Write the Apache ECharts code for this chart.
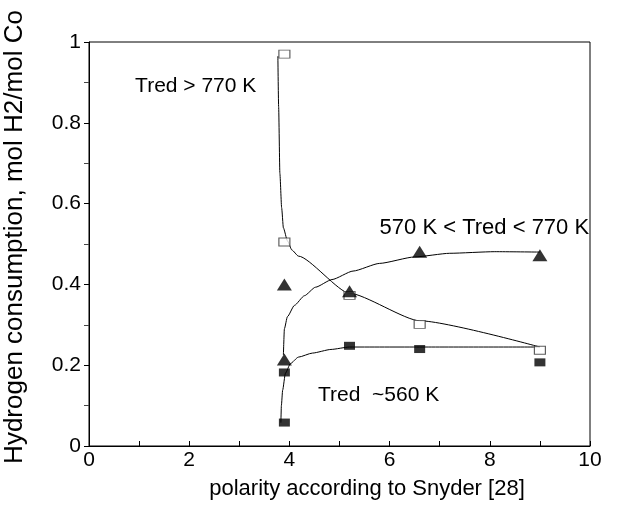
<!DOCTYPE html>
<html>
<head>
<meta charset="utf-8">
<script src="https://cdn.jsdelivr.net/npm/echarts@6/dist/echarts.min.js"></script>
<style>
  html, body { margin: 0; padding: 0; background: #fff; }
  #chart { width: 636px; height: 505px; }
</style>
</head>
<body>
<div id="chart"></div>
<script>
// Measured points: Tred > 770 K (open squares)
const openPolarity = [3.9, 3.9, 5.2, 6.6, 9.0];
const openH2 = [0.97, 0.505, 0.373, 0.301, 0.237];

// Measured points: 570 K < Tred < 770 K (filled triangles)
const triPolarity = [3.9, 3.9, 5.2, 6.6, 9.0];
const triH2 = [0.40, 0.214, 0.383, 0.481, 0.472];

// Measured points: Tred ~ 560 K (filled squares)
const fillPolarity = [3.9, 3.9, 5.2, 6.6, 9.0];
const fillH2 = [0.058, 0.182, 0.248, 0.240, 0.207];

// Hand-drawn trend curves through each group
const openFitX = [3.77, 3.785, 3.81, 3.845, 3.88, 3.96, 4.05, 4.18, 5.2, 6.6, 9.0];
const openFitY = [0.965, 0.84, 0.675, 0.59, 0.54, 0.508, 0.485, 0.47, 0.378, 0.31, 0.245];
const triFitX = [3.88, 3.9, 3.96, 4.1, 4.3, 4.52, 4.85, 5.27, 5.8, 6.5, 7.2, 8.1, 9.0];
const triFitY = [0.225, 0.29, 0.32, 0.348, 0.372, 0.393, 0.412, 0.433, 0.452, 0.468, 0.477, 0.481, 0.48];
const fillFitX = [3.83, 3.84, 3.865, 3.92, 4.02, 4.18, 4.46, 4.83, 5.2, 6.6, 9.0];
const fillFitY = [0.058, 0.1, 0.138, 0.18, 0.204, 0.22, 0.23, 0.239, 0.245, 0.245, 0.245];

// Curve annotations: [text, polarity, H2, font size]
const annotations = [
  ['Tred > 770 K', 0.92, 0.89, 21],
  ['570 K < Tred < 770 K', 5.8, 0.54, 22],
  ['Tred  ~560 K', 4.57, 0.125, 21]
];

const xTitle = 'polarity according to Snyder [28]';
const yTitle = 'Hydrogen consumption, mol H2/mol Co';

const FONT = 'Liberation Sans, Arial, sans-serif';
const zip = (xs, ys) => xs.map((x, i) => [x, ys[i]]);

const chart = echarts.init(document.getElementById('chart'), null, { renderer: 'canvas' });

const fitLine = (xs, ys) => ({
  type: 'line',
  data: zip(xs, ys),
  showSymbol: false,
  symbol: 'none',
  smooth: 0.2,
  smoothMonotone: 'x',
  lineStyle: { color: '#000', width: 1 },
  silent: true,
  z: 2
});

chart.setOption({
  animation: false,
  backgroundColor: '#fff',
  grid: {
    left: 89, right: 46, top: 42, bottom: 59,
    containLabel: false, outerBoundsMode: 'none',
    show: true, borderColor: '#000', borderWidth: 1, backgroundColor: 'transparent'
  },
  xAxis: {
    type: 'value', min: 0, max: 10, interval: 2,
    axisLine: { lineStyle: { color: '#000', width: 1 } },
    axisTick: { inside: true, length: 5, lineStyle: { color: '#000' } },
    minorTick: { show: true, splitNumber: 2, length: 5, lineStyle: { color: '#000' } },
    splitLine: { show: false },
    axisLabel: { fontFamily: FONT, fontSize: 21, color: '#000', margin: 4 }
  },
  yAxis: {
    type: 'value', min: 0, max: 1, interval: 0.2,
    axisLine: { lineStyle: { color: '#000', width: 1 } },
    axisTick: { inside: false, length: 5, lineStyle: { color: '#000' } },
    minorTick: { show: true, splitNumber: 2, length: 5, lineStyle: { color: '#444' } },
    splitLine: { show: false },
    axisLabel: { fontFamily: FONT, fontSize: 21, color: '#000', margin: 8 }
  },
  series: [
    fitLine(openFitX, openFitY),
    fitLine(triFitX, triFitY),
    fitLine(fillFitX, fillFitY),
    {
      type: 'scatter', data: zip(openPolarity, openH2),
      symbol: 'rect', symbolSize: [11, 8],
      itemStyle: { color: '#fff', borderColor: '#333', borderWidth: 1 }, z: 3
    },
    {
      type: 'scatter', data: zip(triPolarity, triH2),
      symbol: 'triangle', symbolSize: [15, 12],
      itemStyle: { color: '#000' }, z: 4
    },
    {
      type: 'scatter', data: zip(fillPolarity, fillH2),
      symbol: 'rect', symbolSize: [11, 8],
      itemStyle: { color: '#000' }, z: 4
    }
  ]
});

// Curve annotations at their data positions, plus the two axis titles
const textStyle = (text, size, extra) => Object.assign(
  { text, fontFamily: FONT, fontSize: size, fill: '#000', verticalAlign: 'middle', align: 'left' }, extra || {});

const graphics = annotations.map(([text, x, y, size]) => {
  const p = chart.convertToPixel({ gridIndex: 0 }, [x, y]);
  return { type: 'text', x: p[0], y: p[1], z: 10, style: textStyle(text, size) };
});
graphics.push({
  type: 'text', x: 367, y: 489, z: 10,
  style: textStyle(xTitle, 22, { align: 'center' })
});
graphics.push({
  type: 'text', x: 15, y: 237, rotation: Math.PI / 2, z: 10,
  style: textStyle(yTitle, 26, { align: 'center' })
});
chart.setOption({ graphic: graphics });
</script>
</body>
</html>
